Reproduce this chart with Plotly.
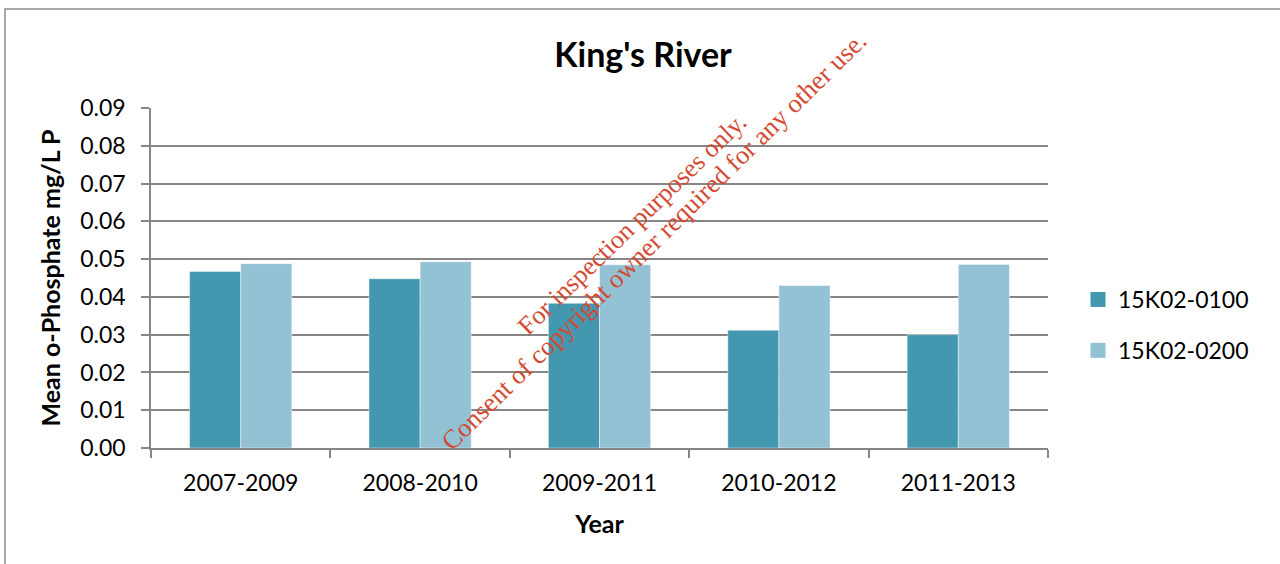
import plotly.graph_objects as go

categories = ["2007-2009", "2008-2010", "2009-2011", "2010-2012", "2011-2013"]
series_names = ["15K02-0100", "15K02-0200"]
values_0100 = [0.0467, 0.0448, 0.0383, 0.0312, 0.0300]
values_0200 = [0.0488, 0.0493, 0.0485, 0.0430, 0.0486]
y_ticks = [0.00, 0.01, 0.02, 0.03, 0.04, 0.05, 0.06, 0.07, 0.08, 0.09]

colors = ["#4397AE", "#93C2D4"]
FONT = "Lato, 'Open Sans', sans-serif"

fig = go.Figure()
for name, vals, col in zip(series_names, [values_0100, values_0200], colors):
    fig.add_trace(go.Bar(
        x=categories, y=vals, name=name, showlegend=False,
        marker=dict(color=col, line=dict(color="rgba(255,255,255,0.45)", width=1)),
    ))
for i, (name, col) in enumerate(zip(series_names, colors)):
    fig.add_trace(go.Scatter(
        x=[None], y=[None], mode="markers", name=name, legendgroup=f"g{i}",
        marker=dict(symbol="square", size=15, color=col),
    ))

W, H = 1280, 564
L, R, T, B = 151, 232, 108, 116
pw, ph = W - L - R, H - T - B

def px(xp):
    return (xp - L) / pw

def py(yp):
    return (H - B - yp) / ph

fig.update_layout(
    width=W, height=H,
    margin=dict(l=L, r=R, t=T, b=B),
    paper_bgcolor="white", plot_bgcolor="white",
    font=dict(family=FONT, size=23, color="#000000"),
    barmode="group", bargap=0.43, bargroupgap=0,
    title=dict(text="<b>King's River</b>", x=643 / W, xanchor="center",
               y=1 - 55 / H, yanchor="middle", yref="container",
               font=dict(family=FONT, size=34, color="#000000")),
    legend=dict(x=px(1078), xanchor="left", y=py(325), yanchor="middle",
                font=dict(family=FONT, size=23), tracegroupgap=18,
                bgcolor="rgba(0,0,0,0)"),
    xaxis=dict(
        type="category", tickson="boundaries", ticks="outside", ticklen=8,
        tickcolor="#868686", tickwidth=1.5,
        ticklabelstandoff=14,
        showline=True, linecolor="#868686", linewidth=1.5,
        showgrid=False,
        title=dict(text="<b>Year</b>", standoff=20, font=dict(family=FONT, size=25)),
    ),
    yaxis=dict(
        range=[0, 0.09], tickvals=y_ticks, tickformat=".2f",
        ticks="outside", ticklen=8, tickcolor="#868686", tickwidth=1.5,
        ticklabelstandoff=11,
        showline=True, linecolor="#868686", linewidth=1.5,
        showgrid=True, gridcolor="#868686", gridwidth=1.6,
        zeroline=False,
        title=dict(text="<b>Mean o-Phosphate mg/L P</b>", standoff=12,
                   font=dict(family=FONT, size=25)),
    ),
    shapes=[dict(type="rect", xref="paper", yref="paper",
                 x0=px(5), x1=px(1300), y0=py(600), y1=py(9),
                 line=dict(color="#8C8C8C", width=1.5), fillcolor="rgba(0,0,0,0)",
                 layer="below")],
    annotations=[
        dict(text="For inspection purposes only.", xref="paper", yref="paper",
             x=px(631.5), y=py(224), showarrow=False, textangle=-44,
             font=dict(family="'Liberation Serif', 'DejaVu Serif', serif", size=26, color="#D44A33")),
        dict(text="Consent of copyright owner required for any other use.", xref="paper", yref="paper",
             x=px(653.5), y=py(241), showarrow=False, textangle=-44.5,
             font=dict(family="'Liberation Serif', 'DejaVu Serif', serif", size=26.5, color="#D44A33")),
    ],
)

fig.write_html("out.html", config={"displayModeBar": False},
               post_script="document.body.style.margin='0';")
